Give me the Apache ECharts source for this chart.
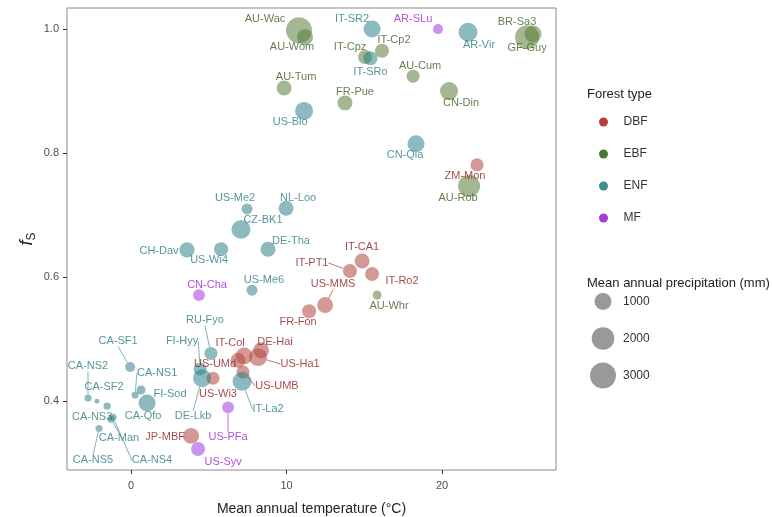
<!DOCTYPE html>
<html>
<head>
<meta charset="utf-8">
<script src="https://cdn.jsdelivr.net/npm/echarts@6/dist/echarts.min.js"></script>
<style>
html,body{margin:0;padding:0;background:#fff;}
#chart{width:772px;height:517px;}
</style>
</head>
<body>
<div id="chart"></div>
<script>
// ---------------- data ----------------
const xTicks = [0, 10, 20];
const yTicks = [0.4, 0.6, 0.8, 1.0];
const forestTypes = ['DBF', 'EBF', 'ENF', 'MF'];
const precipLegend = [1000, 2000, 3000];

const dbfSites = ['ZM-Mon','IT-CA1','IT-PT1','IT-Ro2','US-MMS','FR-Fon','IT-Col','US-UMd','DE-Hai','US-Ha1','US-UMB','US-Wi3','JP-MBF'];
const dbfTemp  = [22.25, 14.86, 14.08, 15.50, 12.48, 11.45, 7.27, 6.88, 8.36, 8.17, 7.20, 5.27, 3.86];
const dbfFs    = [0.781, 0.626, 0.610, 0.605, 0.555, 0.545, 0.473, 0.466, 0.482, 0.471, 0.447, 0.437, 0.344];
const dbfPrecip= [620, 780, 700, 700, 880, 700, 1000, 780, 880, 1130, 620, 620, 880];

const ebfSites = ['AU-Wac','AU-Wom','IT-Cpz','IT-Cp2','AU-Tum','FR-Pue','AU-Cum','CN-Din','BR-Sa3','GF-Guy','AU-Rob','AU-Whr'];
const ebfTemp  = [10.80, 11.19, 15.05, 16.14, 9.84, 13.76, 18.14, 20.45, 25.85, 25.47, 21.74, 15.82];
const ebfFs    = [0.998, 0.987, 0.955, 0.965, 0.905, 0.881, 0.924, 0.900, 0.992, 0.987, 0.747, 0.571];
const ebfPrecip= [3000, 880, 700, 700, 780, 780, 620, 1130, 1000, 2350, 1840, 380];

const enfSites = ['IT-SR2','IT-SRo','AR-Vir','US-Blo','CN-Qia','US-Me2','NL-Loo','CZ-BK1','DE-Tha','CH-Dav','US-Wi4','US-Me6','RU-Fyo','FI-Hyy','DE-Lkb','IT-La2','CA-SF1','CA-NS2','CA-SF2','CA-NS3','CA-NS4','CA-Man','CA-NS5','CA-NS1','FI-Sod','CA-Qfo'];
const enfTemp  = [15.50, 15.40, 21.67, 11.13, 18.33, 7.46, 9.97, 7.07, 8.81, 3.60, 5.79, 7.78, 5.14, 4.44, 4.57, 7.14, -0.06, -2.77, -2.19, -1.54, -1.16, -1.29, -2.06, 0.26, 0.64, 1.03];
const enfFs    = [1.000, 0.953, 0.995, 0.868, 0.815, 0.710, 0.711, 0.677, 0.645, 0.644, 0.645, 0.579, 0.477, 0.452, 0.437, 0.432, 0.455, 0.405, 0.400, 0.392, 0.374, 0.371, 0.356, 0.410, 0.418, 0.397];
const enfPrecip= [1000, 700, 1250, 1130, 1000, 480, 780, 1270, 800, 800, 700, 480, 620, 620, 1130, 1270, 430, 300, 230, 300, 300, 300, 300, 300, 380, 1000];

const mfSites  = ['AR-SLu','CN-Cha','US-PFa','US-Syv'];
const mfTemp   = [19.74, 4.37, 6.24, 4.31];
const mfFs     = [1.000, 0.571, 0.390, 0.323];
const mfPrecip = [430, 540, 540, 700];

// ---------------- label layout (pixel offsets of labels from their points; 3rd entry = draw leader line) ----------------
const labelPlacement = {
  'ZM-Mon':[-12,11], 'IT-CA1':[0,-14], 'IT-PT1':[-38,-8,1], 'IT-Ro2':[30,7], 'US-MMS':[8,-21,1], 'FR-Fon':[-11,11],
  'IT-Col':[-14,-13], 'US-UMd':[-23,4], 'DE-Hai':[14,-8], 'US-Ha1':[42,7,1], 'US-UMB':[34,14,1], 'US-Wi3':[5,16], 'JP-MBF':[-26,1],
  'AU-Wac':[-34,-11], 'AU-Wom':[-13,10], 'IT-Cpz':[-15,-10], 'IT-Cp2':[12,-11], 'AU-Tum':[12,-11], 'FR-Pue':[10,-11],
  'AU-Cum':[7,-10], 'CN-Din':[12,12], 'BR-Sa3':[-16,-12], 'GF-Guy':[0,11], 'AU-Rob':[-11,12], 'AU-Whr':[12,11],
  'IT-SR2':[-20,-10], 'IT-SRo':[0,14], 'AR-Vir':[11,13], 'US-Blo':[-14,11], 'CN-Qia':[-11,11], 'US-Me2':[-12,-11],
  'NL-Loo':[12,-10], 'CZ-BK1':[22,-9], 'DE-Tha':[23,-8], 'CH-Dav':[-28,1], 'US-Wi4':[-12,11], 'US-Me6':[12,-10],
  'RU-Fyo':[-6,-33,1], 'FI-Hyy':[-18,-28,1], 'DE-Lkb':[-9,38,1], 'IT-La2':[26,28,1], 'CA-SF1':[-12,-26,1],
  'CA-NS2':[0,-32,1], 'CA-SF2':[7,-14], 'CA-NS3':[-15,11], 'CA-NS4':[39,43,1], 'CA-Man':[8,19,1], 'CA-NS5':[-6,32,1],
  'CA-NS1':[22,-22,1], 'FI-Sod':[29,4], 'CA-Qfo':[-4,13],
  'AR-SLu':[-25,-10], 'CN-Cha':[8,-10], 'US-PFa':[0,30,1], 'US-Syv':[25,13]
};

// ---------------- styles ----------------
const fillColors  = {DBF:'rgba(178,66,60,0.68)', EBF:'rgba(85,122,54,0.68)', ENF:'rgba(42,128,135,0.68)', MF:'rgba(163,53,224,0.68)'};
const lineColors  = {DBF:'rgba(178,66,60,0.75)', EBF:'rgba(85,122,54,0.75)', ENF:'rgba(42,128,135,0.6)', MF:'rgba(163,53,224,0.7)'};
const textColors  = {DBF:'#8b1a1a', EBF:'#3b5e1f', ENF:'#2b7a7e', MF:'#a020d9'};
const keyColors   = {DBF:'#b5403f', EBF:'#4b7a2e', ENF:'#3a8f8f', MF:'#a040d0'};
const FONT = 'Liberation Sans';

function sizeOf(p){ return Math.max(3, 8.19 * Math.log(p) - 39.6); }

const groups = {
  DBF: [dbfSites, dbfTemp, dbfFs, dbfPrecip],
  EBF: [ebfSites, ebfTemp, ebfFs, ebfPrecip],
  ENF: [enfSites, enfTemp, enfFs, enfPrecip],
  MF:  [mfSites, mfTemp, mfFs, mfPrecip]
};

const seriesSites = [];
const series = forestTypes.map(function(ft){
  const g = groups[ft];
  seriesSites.push(g[0]);
  return {
    name: ft,
    type: 'scatter',
    xAxisIndex: 0, yAxisIndex: 0,
    data: g[0].map(function(s, i){
      const lp = labelPlacement[s] || [0, 12];
      return { name: s, value: [g[1][i], g[2][i], g[3][i]], labelLine: { show: !!lp[2] } };
    }),
    symbolSize: function(v){ return sizeOf(v[2]); },
    itemStyle: { color: fillColors[ft] },
    label: {
      show: true, position: 'inside', formatter: '{b}',
      color: textColors[ft], fontSize: 11, fontFamily: FONT,
      textBorderWidth: 0, textBorderColor: 'transparent'
    },
    labelLine: { show: false, lineStyle: { color: lineColors[ft], width: 1 } },
    labelLayout: function(p){
      const s = seriesSites[p.seriesIndex][p.dataIndex];
      const lp = labelPlacement[s] || [0, 12];
      return { dx: lp[0], dy: lp[1] };
    },
    emphasis: { disabled: true }
  };
});

series.push({
  name: 'precipLegend',
  type: 'scatter',
  xAxisIndex: 1, yAxisIndex: 1,
  data: precipLegend.map(function(p){ return [0.5, String(p), p]; }),
  symbolSize: function(v){ return sizeOf(v[2]); },
  itemStyle: { color: 'rgba(0,0,0,0.5)' },
  emphasis: { disabled: true },
  silent: true
});

const option = {
  animation: false,
  textStyle: { fontFamily: FONT },
  title: [
    { text: 'Forest type', left: 582, top: 83, textStyle: { fontSize: 13, fontWeight: 'normal', color: '#222', fontFamily: FONT } },
    { text: 'Mean annual precipitation (mm)', left: 582, top: 272, textStyle: { fontSize: 13, fontWeight: 'normal', color: '#222', fontFamily: FONT } }
  ],
  legend: {
    orient: 'vertical', left: 594, top: 111,
    itemWidth: 30, itemHeight: 9, itemGap: 20,
    icon: 'circle', selectedMode: false,
    textStyle: { fontSize: 12, color: '#333', fontFamily: FONT },
    data: forestTypes.map(function(ft){ return { name: ft, itemStyle: { color: keyColors[ft], opacity: 1 } }; })
  },
  grid: [
    { left: 67, right: 216, top: 8, bottom: 47, show: true, borderColor: '#8a8a8a', borderWidth: 1, backgroundColor: 'transparent', containLabel: false, outerBoundsMode: 'none' },
    { left: 590, width: 26, top: 283, height: 111, show: false, containLabel: false, outerBoundsMode: 'none' }
  ],
  xAxis: [
    {
      type: 'value', gridIndex: 0, min: -4.12, max: 27.33,
      name: 'Mean annual temperature (\u00B0C)', nameLocation: 'middle', nameGap: 32,
      nameTextStyle: { fontSize: 14, color: '#222', fontFamily: FONT },
      axisLine: { show: false, onZero: false },
      axisTick: { show: true, length: 4, lineStyle: { color: '#333' }, customValues: xTicks },
      axisLabel: { fontSize: 11, color: '#4d4d4d', margin: 10, customValues: xTicks, formatter: function(v){ return String(v); } },
      splitLine: { show: false }
    },
    { type: 'value', gridIndex: 1, min: 0, max: 1, show: false }
  ],
  yAxis: [
    {
      type: 'value', gridIndex: 0, min: 0.289, max: 1.034,
      name: '{f|f}{s|S}', nameLocation: 'middle', nameGap: 29, nameMoveOverlap: false,
      nameTextStyle: {
        rich: {
          f: { fontSize: 18, fontStyle: 'italic', color: '#222', fontFamily: FONT, lineHeight: 22, verticalAlign: 'middle' },
          s: { fontSize: 12, color: '#222', fontFamily: FONT, lineHeight: 22, verticalAlign: 'bottom' }
        }
      },
      axisLine: { show: false, onZero: false },
      axisTick: { show: true, length: 4, lineStyle: { color: '#333' }, customValues: yTicks },
      axisLabel: { fontSize: 11, color: '#4d4d4d', margin: 8, customValues: yTicks, formatter: function(v){ return v.toFixed(1); } },
      splitLine: { show: false }
    },
    {
      type: 'category', gridIndex: 1, inverse: true, position: 'right',
      data: precipLegend.map(String),
      axisLine: { show: false }, axisTick: { show: false },
      axisLabel: { fontSize: 12, color: '#333', margin: 7, fontFamily: FONT },
      splitLine: { show: false }
    }
  ],
  series: series
};

const chart = echarts.init(document.getElementById('chart'), null, { renderer: 'canvas' });
chart.setOption(option);
</script>
</body>
</html>
